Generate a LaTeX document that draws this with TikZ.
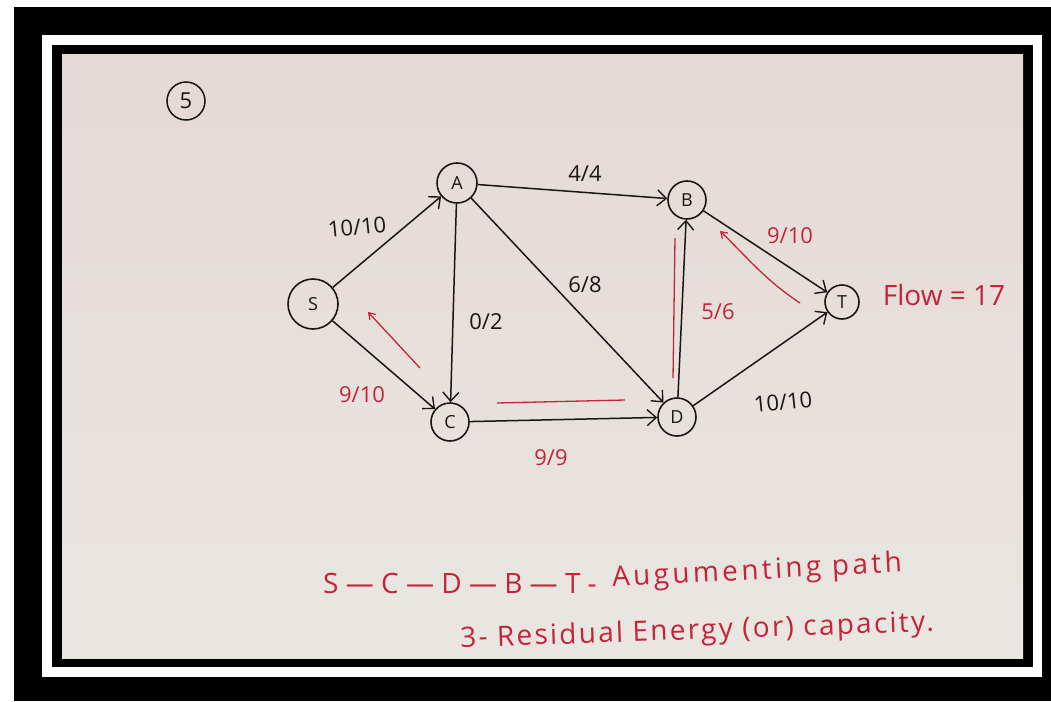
\documentclass[tikz,border=0pt]{standalone}
\usepackage{fontspec}
\setmainfont{Open Sans}
\usetikzlibrary{arrows.meta}
\definecolor{paperTop}{RGB}{229,217,213}
\definecolor{paperBot}{RGB}{233,230,225}
\definecolor{inkred}{RGB}{196,36,58}
\definecolor{ink}{RGB}{25,22,22}
\tikzset{
  vtx/.style={circle,draw=ink,line width=1.6pt,inner sep=0pt,font=\fontsize{18}{18}\selectfont,text=ink},
  edge/.style={draw=ink,line width=1.5pt,-{Straight Barb[length=9pt,width=16pt,line width=1.4pt]}},
  resid/.style={draw=inkred,line width=1.3pt},
  residarr/.style={resid,-{Straight Barb[length=6pt,width=8pt,line width=1.2pt]}},
  blab/.style={text=ink,font=\fontsize{22}{22}\selectfont,inner sep=1pt},
  rlab/.style={text=inkred,font=\fontsize{22}{22}\selectfont,inner sep=1pt},
  note/.style={text=inkred,font=\fontsize{28}{28}\selectfont,inner sep=1pt}
}
\begin{document}
\begin{tikzpicture}[x=1pt,y=-1pt]
\useasboundingbox (0,0) rectangle (1051,701);
% frame
\fill[white] (0,0) rectangle (1051,701);
\fill[black] (14,7) rectangle (1051,701);
\fill[white] (42,35) rectangle (1042,677);
\fill[black] (52,45) rectangle (1033,667);
\shade[top color=paperTop,bottom color=paperBot] (62,55) rectangle (1023,658);
% question number
\node[vtx,minimum size=38pt,line width=1.5pt,font=\fontsize{22}{22}\selectfont] (q) at (186,101) {5};
% vertices
\node[vtx,minimum size=50pt] (S) at (313,304) {S};
\node[vtx,minimum size=40pt] (A) at (457,183) {A};
\node[vtx,minimum size=38pt] (B) at (687,200) {B};
\node[vtx,minimum size=38pt] (C) at (450,422) {C};
\node[vtx,minimum size=38pt] (D) at (677,417) {D};
\node[vtx,minimum size=34pt] (T) at (842,302) {T};
% edges
\draw[edge] (S) -- (A);
\draw[edge] (S) -- (C);
\draw[edge] (A) -- (C);
\draw[edge] (A) -- (B);
\draw[edge] (A) -- (D);
\draw[edge] (C) -- (D);
\draw[edge] (D) -- (B);
\draw[edge] (B) -- (T);
\draw[edge] (D) -- (T);
% labels
\node[blab,rotate=6] (lsa) at (357,227) {10/10};
\node[rlab] (lsc) at (362,395) {9/10};
\node[blab] (lac) at (486,322) {0/2};
\node[blab] (lab) at (585,174) {4/4};
\node[blab] (lad) at (585,285) {6/8};
\node[rlab] (ldb) at (718,312) {5/6};
\node[rlab] (lbt) at (790,236) {9/10};
\node[blab,rotate=6] (ldt) at (783,402) {10/10};
\node[rlab] (lcd) at (551,458) {9/9};
% residual marks
\coordinate (r1a) at (420,368); \coordinate (r1b) at (368,312);
\draw[residarr] (r1a) -- (r1b);
\coordinate (r2a) at (497,403); \coordinate (r2b) at (625,400);
\draw[resid] (r2a) -- (r2b);
\coordinate (r3a) at (673,378); \coordinate (r3b) at (675,238);
\draw[resid] (r3a) -- (r3b);
\coordinate (r4a) at (800,303); \coordinate (r4b) at (720,231);
\draw[residarr] (r4a) .. controls (765,280) and (745,255) .. (r4b);
% notes
\node[note] (flow) at (944,295) {Flow = 17};
\node[note] (path1) at (460,583) {S — C — D — B — T -};
\node[note,rotate=3] (path2) at (757,572) {\addfontfeatures{LetterSpace=12}Augumenting path};
\node[note,rotate=2] (resnote) at (697,632) {\addfontfeatures{LetterSpace=8}3- Residual Energy (or) capacity.};
\end{tikzpicture}
\end{document}
